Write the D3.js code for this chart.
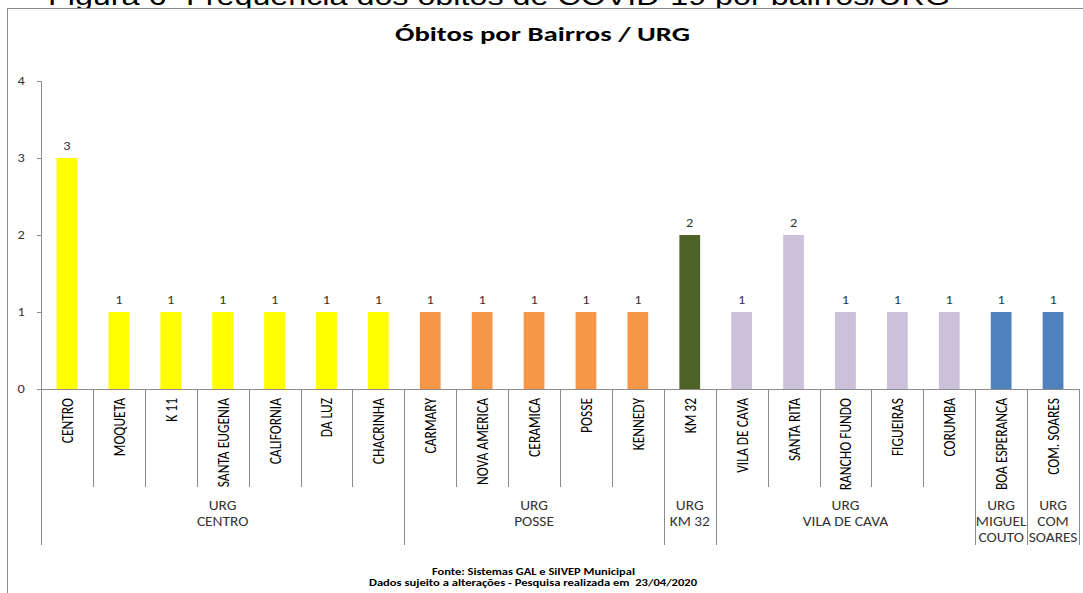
<!DOCTYPE html>
<html lang="pt">
<head>
  <meta charset="UTF-8">
  <title>Óbitos por Bairros / URG</title>
  <script src="https://d3js.org/d3.v7.min.js"></script>
  <style>
    html, body { margin: 0; padding: 0; background: #fff; overflow: hidden; }
    svg { display: block; }
  </style>
</head>
<body>
  <svg id="chart"></svg>

  <script>
    // Data
    const categories = ["CENTRO", "MOQUETA", "K 11", "SANTA EUGENIA", "CALIFORNIA", "DA LUZ", "CHACRINHA",
                        "CARMARY", "NOVA AMERICA", "CERAMICA", "POSSE", "KENNEDY",
                        "KM 32",
                        "VILA DE CAVA", "SANTA RITA", "RANCHO FUNDO", "FIGUEIRAS", "CORUMBA",
                        "BOA ESPERANCA",
                        "COM. SOARES"];
    const values = [3, 1, 1, 1, 1, 1, 1, 1, 1, 1, 1, 1, 2, 1, 2, 1, 1, 1, 1, 1];
    const groupLabels = [["URG", "CENTRO"], ["URG", "POSSE"], ["URG", "KM 32"], ["URG", "VILA DE CAVA"],
                         ["URG", "MIGUEL", "COUTO"], ["URG", "COM", "SOARES"]];
    const groupSizes = [7, 5, 1, 5, 1, 1];
    const groupColors = ["#FFFF00", "#F79646", "#4F6228", "#CCC1DA", "#4F81BD", "#4F81BD"];
    const yTicks = [0, 1, 2, 3, 4];

    const W = 1083, H = 593;
    const plotLeft = 41, plotRight = 1079, plotTop = 81, plotBottom = 389;
    const font = "Carlito, 'Liberation Sans Narrow', 'DejaVu Sans Condensed', Arial, sans-serif";
    // the original picture was stretched sideways, so text is widened a bit
    const stretch = 1.2;

    const svg = d3.select("#chart").attr("width", W).attr("height", H);

    // group index for each category
    const groupOf = [];
    groupSizes.forEach((n, g) => { for (let i = 0; i < n; i++) groupOf.push(g); });

    const x = d3.scaleBand().domain(categories).range([plotLeft, plotRight]).paddingInner(0.6).paddingOuter(0.3);
    const y = d3.scaleLinear().domain([0, 4]).range([plotBottom, plotTop]);
    const step = x.step();
    const x0 = x(categories[0]) - x.paddingOuter() * step;

    // cropped caption above the frame
    svg.append("text")
       .attr("x", 48).attr("y", 5)
       .attr("textLength", 902).attr("lengthAdjust", "spacingAndGlyphs")
       .style("font-family", "Arial, 'Liberation Sans', sans-serif")
       .style("font-size", "26px")
       .attr("fill", "#000")
       .text("Figura 6- Frequência dos óbitos de COVID-19 por bairros/URG");

    // chart frame
    svg.append("rect")
       .attr("x", 7.5).attr("y", 8.5).attr("width", W + 10).attr("height", H + 10)
       .attr("fill", "#fff").attr("stroke", "#8c8c8c").attr("stroke-width", 1);

    // title
    svg.append("text")
       .attr("x", 395).attr("y", 41)
       .attr("textLength", 295).attr("lengthAdjust", "spacingAndGlyphs")
       .style("font-family", "Carlito, 'Open Sans', sans-serif")
       .style("font-size", "21px").style("font-weight", "bold")
       .text("Óbitos por Bairros / URG");

    // bars
    svg.selectAll("rect.bar")
       .data(values)
       .enter().append("rect")
       .attr("class", "bar")
       .attr("x", (d, i) => x(categories[i]))
       .attr("y", d => y(d))
       .attr("width", x.bandwidth())
       .attr("height", d => y(0) - y(d))
       .attr("fill", (d, i) => groupColors[groupOf[i]]);

    // value labels
    svg.selectAll("text.val")
       .data(values)
       .enter().append("text")
       .attr("class", "val")
       .attr("transform", (d, i) => `translate(${x(categories[i]) + x.bandwidth() / 2},${y(d) - 8.5}) scale(${stretch},1)`)
       .attr("text-anchor", "middle")
       .style("font-family", font).style("font-size", "12px")
       .attr("fill", "#333")
       .text(d => d);

    // y axis
    const yAxis = svg.append("g")
       .attr("transform", `translate(${plotLeft},0)`)
       .call(d3.axisLeft(y).tickValues(yTicks).tickFormat(d3.format("d"))
               .tickSize(4).tickPadding(9.5).tickSizeOuter(4));
    yAxis.select(".domain").attr("stroke", "#8c8c8c");
    yAxis.selectAll(".tick line").attr("stroke", "#8c8c8c");
    yAxis.selectAll(".tick text")
         .attr("transform", `scale(${stretch},1)`)
         .style("font-family", font).style("font-size", "12px").attr("fill", "#333");

    // x axis baseline
    svg.append("line")
       .attr("x1", plotLeft).attr("x2", plotRight).attr("y1", plotBottom + 0.5).attr("y2", plotBottom + 0.5)
       .attr("stroke", "#8c8c8c");

    // category separators (short) and group separators (long)
    const groupEnds = Array.from(d3.cumsum(groupSizes));
    const bounds = d3.range(categories.length + 1);
    svg.selectAll("line.sep")
       .data(bounds)
       .enter().append("line")
       .attr("class", "sep")
       .attr("x1", i => Math.round(x0 + i * step) + 0.5)
       .attr("x2", i => Math.round(x0 + i * step) + 0.5)
       .attr("y1", plotBottom)
       .attr("y2", i => (i === 0 || groupEnds.includes(i)) ? 545 : 487)
       .attr("stroke", "#8c8c8c");

    // category labels
    svg.selectAll("text.cat")
       .data(categories)
       .enter().append("text")
       .attr("class", "cat")
       .attr("transform", d => `translate(${x(d) + x.bandwidth() / 2 + 6},398) rotate(-90) scale(1,${stretch})`)
       .attr("text-anchor", "end")
       .style("font-family", font).style("font-size", "13.5px")
       .attr("fill", "#000")
       .text(d => d);

    // group labels
    let start = 0;
    groupLabels.forEach((lines, g) => {
      const cx = x0 + (start + groupSizes[g] / 2) * step;
      lines.forEach((s, k) => {
        svg.append("text")
           .attr("transform", `translate(${cx},${510 + k * 16}) scale(1.1,1)`)
           .attr("text-anchor", "middle")
           .style("font-family", font).style("font-size", "14px")
           .attr("fill", "#333")
           .text(s);
      });
      start += groupSizes[g];
    });

    // footer
    const footer = [["Fonte: Sistemas GAL e SiIVEP Municipal", 432, 203, 575],
                    ["Dados sujeito a alterações - Pesquisa realizada em  23/04/2020", 369, 328, 586]];
    footer.forEach(([s, fx, fw, fy]) => {
      svg.append("text")
         .attr("x", fx).attr("y", fy)
         .attr("textLength", fw).attr("lengthAdjust", "spacingAndGlyphs")
         .style("font-family", font).style("font-size", "10px").style("font-weight", "bold")
         .style("white-space", "pre")
         .text(s);
    });
  </script>
</body>
</html>
